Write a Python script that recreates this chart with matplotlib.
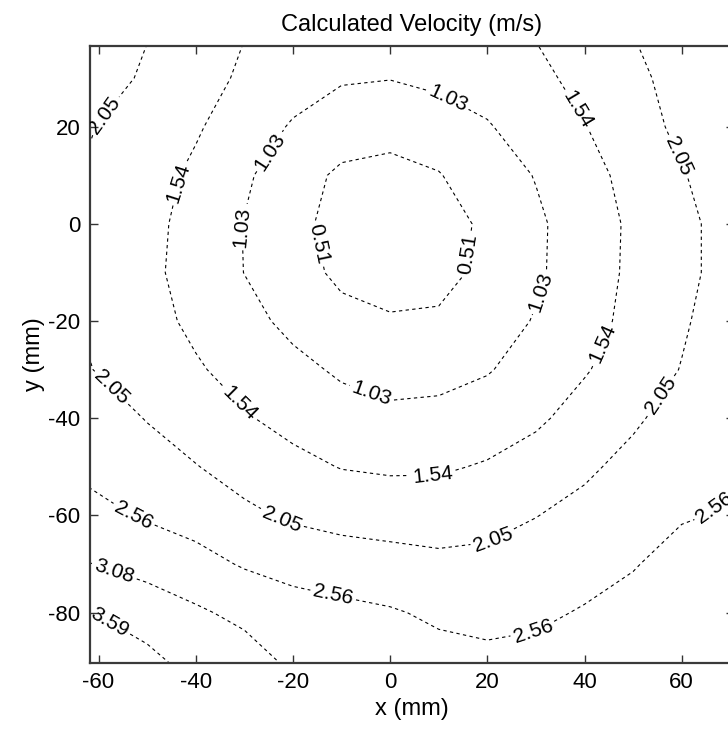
import matplotlib
matplotlib.use("Agg")
import matplotlib.pyplot as plt
import numpy as np

# grid (mm) and velocity at each node (m/s)
xs = [-62, -50, -40, -30, -20, -10, 0, 10, 20, 30, 40, 50, 60, 71]
ys = [37, 30, 20, 10, 0, -10, -20, -30, -40, -50, -60, -70, -80, -91]
velocity = [
    [2.37, 2.05, 1.79, 1.53, 1.42, 1.33, 1.28, 1.32, 1.41, 1.53, 1.79, 2.03, 2.26, 2.48],
    [2.30, 1.98, 1.71, 1.47, 1.24, 1.07, 1.04, 1.15, 1.23, 1.42, 1.68, 1.95, 2.21, 2.45],
    [2.08, 1.83, 1.59, 1.29, 0.98, 0.78, 0.69, 0.76, 0.99, 1.26, 1.52, 1.84, 2.16, 2.42],
    [2.01, 1.72, 1.45, 1.10, 0.74, 0.42, 0.36, 0.49, 0.76, 1.05, 1.37, 1.69, 2.02, 2.33],
    [1.98, 1.69, 1.35, 1.01, 0.66, 0.33, 0.05, 0.30, 0.61, 0.94, 1.29, 1.62, 1.93, 2.26],
    [1.98, 1.65, 1.35, 1.02, 0.71, 0.41, 0.26, 0.34, 0.65, 0.95, 1.30, 1.63, 1.93, 2.26],
    [2.00, 1.70, 1.44, 1.17, 0.91, 0.66, 0.57, 0.59, 0.79, 1.06, 1.36, 1.67, 1.99, 2.34],
    [2.07, 1.81, 1.59, 1.37, 1.15, 0.96, 0.83, 0.86, 0.99, 1.25, 1.50, 1.78, 2.07, 2.38],
    [2.31, 2.03, 1.81, 1.58, 1.39, 1.21, 1.14, 1.17, 1.29, 1.46, 1.72, 1.98, 2.25, 2.50],
    [2.45, 2.26, 2.07, 1.86, 1.67, 1.52, 1.47, 1.48, 1.58, 1.74, 1.97, 2.19, 2.32, 2.51],
    [2.72, 2.51, 2.37, 2.15, 1.98, 1.88, 1.84, 1.82, 1.89, 2.04, 2.19, 2.35, 2.52, 2.62],
    [3.09, 2.91, 2.73, 2.52, 2.39, 2.30, 2.23, 2.16, 2.18, 2.27, 2.39, 2.53, 2.76, 2.85],
    [3.61, 3.35, 3.15, 2.95, 2.77, 2.69, 2.61, 2.48, 2.42, 2.48, 2.60, 2.75, 2.88, 2.95],
    [4.02, 3.76, 3.44, 3.34, 3.01, 2.88, 2.83, 2.75, 2.70, 2.72, 2.78, 2.85, 2.95, 3.02],
]
levels = [0.513, 1.026, 1.538, 2.051, 2.564, 3.077, 3.590]
xticks = [-60, -40, -20, 0, 20, 40, 60]
yticks = [-80, -60, -40, -20, 0, 20]

# where the contour labels sit
label_spots = [
    (-15.8, -4.3), (17.5, -6.4),
    (-25.3, 15.2), (-30.5, -0.6), (-4.1, -35.8), (31.5, -14.2), (11.7, 25.5),
    (-43.2, 8.4), (-31.5, -37.6), (8.8, -52.3), (44.5, -25.0), (38.5, 23.5),
    (-57.6, 21.4), (-57.6, -34.0), (-22.6, -61.5), (21.2, -65.0), (56.2, -35.6), (59.0, 13.8),
    (-52.9, -60.2), (-11.7, -76.3), (29.4, -83.5), (66.5, -58.2),
    (-56.6, -71.2),
    (-57.6, -81.9),
]

plt.rcParams['font.family'] = ['Liberation Sans', 'DejaVu Sans']
plt.rcParams['axes.unicode_minus'] = False

fig = plt.figure(figsize=(7.28, 7.30), dpi=100)
ax = fig.add_axes([90 / 728, 67.3 / 730, 644 / 728, 616.7 / 730])

cs = ax.contour(xs, ys, np.array(velocity), levels=levels, colors='k', linewidths=0.8)
cs.set_linestyle((0, (3, 3)))
ax.clabel(cs, fmt='%.2f', fontsize=15, manual=label_spots, inline=True, inline_spacing=3)

ax.set_xlim(-61.75, 70.76)
ax.set_ylim(-90.3, 36.6)
ax.set_xticks(xticks)
ax.set_yticks(yticks)
ax.tick_params(direction='in', length=6, width=1, top=True, right=True,
               labelsize=16, pad=7, color='#333333')
for s in ax.spines.values():
    s.set_linewidth(1.6)
    s.set_color('#3a3a3a')

ax.set_title('Calculated Velocity (m/s)', fontsize=17, pad=11)
ax.set_xlabel('x (mm)', fontsize=17, labelpad=3)
ax.set_ylabel('y (mm)', fontsize=17, labelpad=2)

fig.savefig('out.png', dpi=100)
